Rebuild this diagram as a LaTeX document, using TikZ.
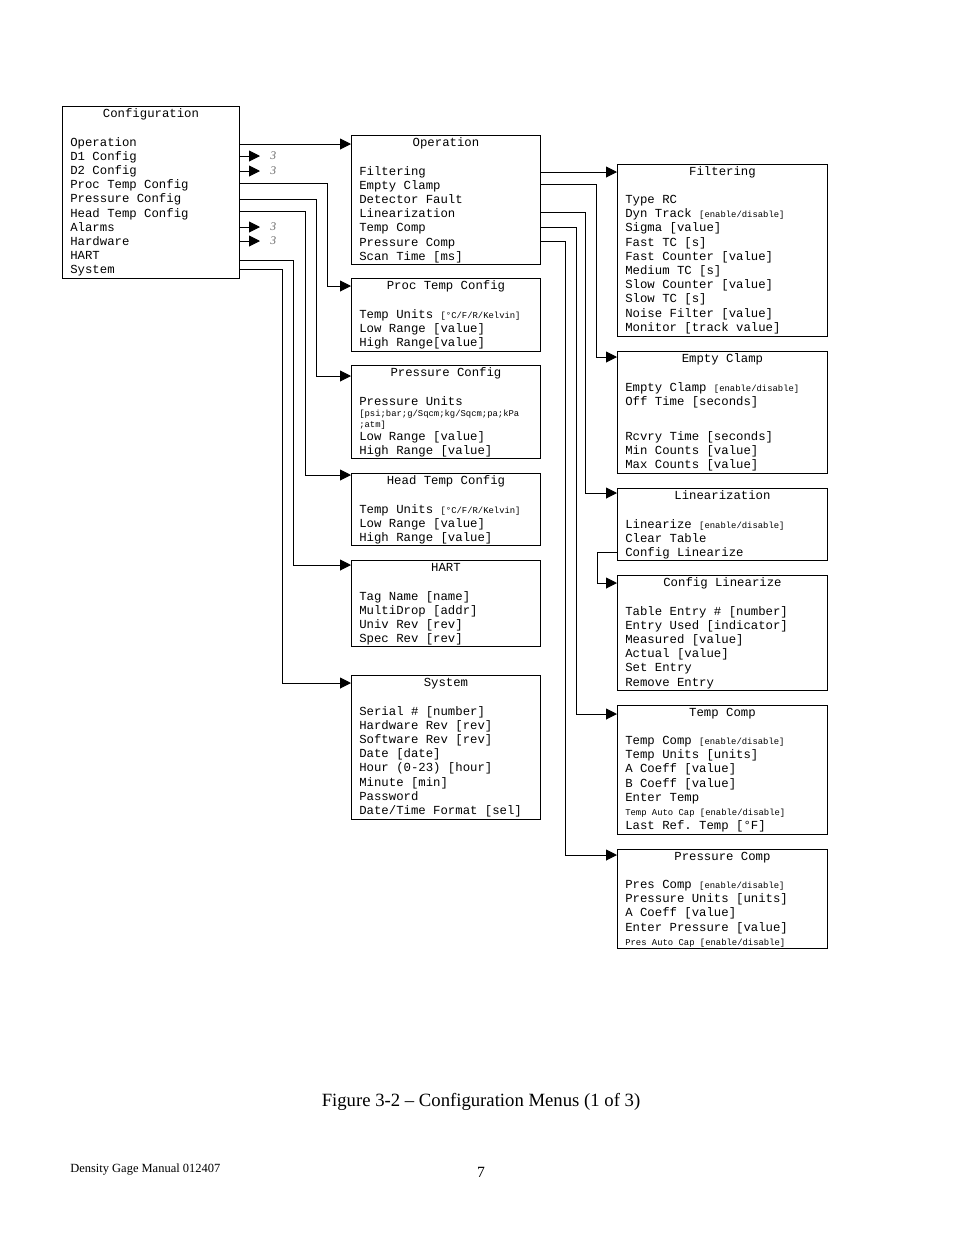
\documentclass[tikz,border=0pt]{standalone}
\usepackage{fontspec}
\setmainfont{Liberation Serif}
\setmonofont{Liberation Mono}
\usetikzlibrary{calc,arrows.meta}
\newcommand\sm[1]{{\fontsize{5.7}{6}\selectfont #1}}
\newcommand\menubx[7]{%
\node[box,minimum width=#4*0.6415pt,minimum height=#5*0.6415pt,anchor=north west] (#1) at (#2,#3) {};
\node[ttl,anchor=base] at ($(#1.north)+(0,11)$) {#6};
\node[lns,anchor=north west] at ($(#1.north west)+(8,31)$) {#7};}
\tikzset{
box/.style={draw,line width=0.6pt,inner sep=0},
ttl/.style={font=\ttfamily\fontsize{7.9}{9.1}\selectfont,inner sep=0},
lns/.style={font=\ttfamily\fontsize{7.9}{9.1}\selectfont,align=left,inner sep=0},
arr/.style={line width=0.6pt,-{Triangle[length=7pt,width=7pt]}},
three/.style={font=\itshape\fontsize{7.5}{9}\selectfont,text=black!60,anchor=west,inner sep=0}
}
\begin{document}
\begin{tikzpicture}[x=0.6415pt,y=-0.6415pt]
\useasboundingbox (0,0) rectangle (954,1235);
\menubx{conf}{62}{106}{177}{172}{Configuration}{Operation\\D1 Config\\D2 Config\\Proc Temp Config\\Pressure Config\\Head Temp Config\\Alarms\\Hardware\\HART\\System}
\menubx{op}{351}{135}{189}{129}{Operation}{Filtering\\Empty Clamp\\Detector Fault\\Linearization\\Temp Comp\\Pressure Comp\\Scan Time [ms]}
\menubx{proc}{351}{278}{189}{73}{Proc Temp Config}{Temp Units \sm{[°C/F/R/Kelvin]}\\Low Range [value]\\High Range[value]}
\menubx{press}{351}{365}{189}{93}{Pressure Config}{Pressure Units\\[-2pt]\sm{[psi;bar;g/Sqcm;kg/Sqcm;pa;kPa}\\[-2pt]\sm{;atm]}\\[-0.8pt]Low Range [value]\\High Range [value]}
\menubx{head}{351}{473}{189}{72}{Head Temp Config}{Temp Units \sm{[°C/F/R/Kelvin]}\\Low Range [value]\\High Range [value]}
\menubx{hart}{351}{560}{189}{86}{HART}{Tag Name [name]\\MultiDrop [addr]\\Univ Rev [rev]\\Spec Rev [rev]}
\menubx{sys}{351}{675}{189}{144}{System}{Serial \# [number]\\Hardware Rev [rev]\\Software Rev [rev]\\Date [date]\\Hour (0-23) [hour]\\Minute [min]\\Password\\Date/Time Format [sel]}
\menubx{fil}{617}{164}{210}{172}{Filtering}{Type RC\\Dyn Track \sm{[enable/disable]}\\Sigma [value]\\Fast TC [s]\\Fast Counter [value]\\Medium TC [s]\\Slow Counter [value]\\Slow TC [s]\\Noise Filter [value]\\Monitor [track value]}
\menubx{ec}{617}{351}{210}{122}{Empty Clamp}{Empty Clamp \sm{[enable/disable]}\\Off Time [seconds]\\[13.4pt]Rcvry Time [seconds]\\Min Counts [value]\\Max Counts [value]}
\menubx{lin}{617}{488}{210}{72}{Linearization}{Linearize \sm{[enable/disable]}\\Clear Table\\Config Linearize}
\menubx{cl}{617}{575}{210}{115}{Config Linearize}{Table Entry \# [number]\\Entry Used [indicator]\\Measured [value]\\Actual [value]\\Set Entry\\Remove Entry}
\menubx{tcomp}{617}{705}{210}{129}{Temp Comp}{Temp Comp \sm{[enable/disable]}\\Temp Units [units]\\A Coeff [value]\\B Coeff [value]\\Enter Temp\\\sm{Temp Auto Cap [enable/disable]}\\Last Ref. Temp [°F]}
\menubx{pcomp}{617}{849}{210}{99}{Pressure Comp}{Pres Comp \sm{[enable/disable]}\\Pressure Units [units]\\A Coeff [value]\\Enter Pressure [value]\\\sm{Pres Auto Cap [enable/disable]}}
% left connectors
\draw[arr] (conf.east |- 0,144) -- (op.west |- 0,144);
\foreach \yy/\nm in {156/a,171/b,227/c,241/d}{
  \draw[arr] (conf.east |- 0,\yy) -- (260,\yy);
  \node[three] (three\nm) at (270,\yy) {3};
}
\draw[arr] (conf.east |- 0,183) -| (327,286) -- (proc.west |- 0,286);
\draw[arr] (conf.east |- 0,199) -| (316,376) -- (press.west |- 0,376);
\draw[arr] (conf.east |- 0,211) -| (305,475) -- (head.west |- 0,475);
\draw[arr] (conf.east |- 0,260) -| (293,565) -- (hart.west |- 0,565);
\draw[arr] (conf.east |- 0,269) -| (282,683) -- (sys.west |- 0,683);
% middle connectors
\draw[arr] (op.east |- 0,172) -- (fil.west |- 0,172);
\draw[arr] (op.east |- 0,184) -| (596,357) -- (ec.west |- 0,357);
\draw[arr] (op.east |- 0,212) -| (585,493) -- (lin.west |- 0,493);
\draw[arr] (op.east |- 0,227) -| (576,714) -- (tcomp.west |- 0,714);
\draw[arr] (op.east |- 0,241) -| (565,855) -- (pcomp.west |- 0,855);
\draw[arr] (lin.west |- 0,552) -- (597,552) -- (597,583) -- (cl.west |- 0,583);
% captions
\node[font=\fontsize{12}{14}\selectfont,inner sep=0] (cap) at (481,1102) {Figure 3-2 – Configuration Menus (1 of 3)};
\node[font=\fontsize{8}{10}\selectfont,inner sep=0,anchor=west] (foot) at (70,1170) {Density Gage Manual 012407};
\node[font=\fontsize{10}{12}\selectfont,inner sep=0] (pg) at (481,1172) {7};
\end{tikzpicture}
\end{document}
